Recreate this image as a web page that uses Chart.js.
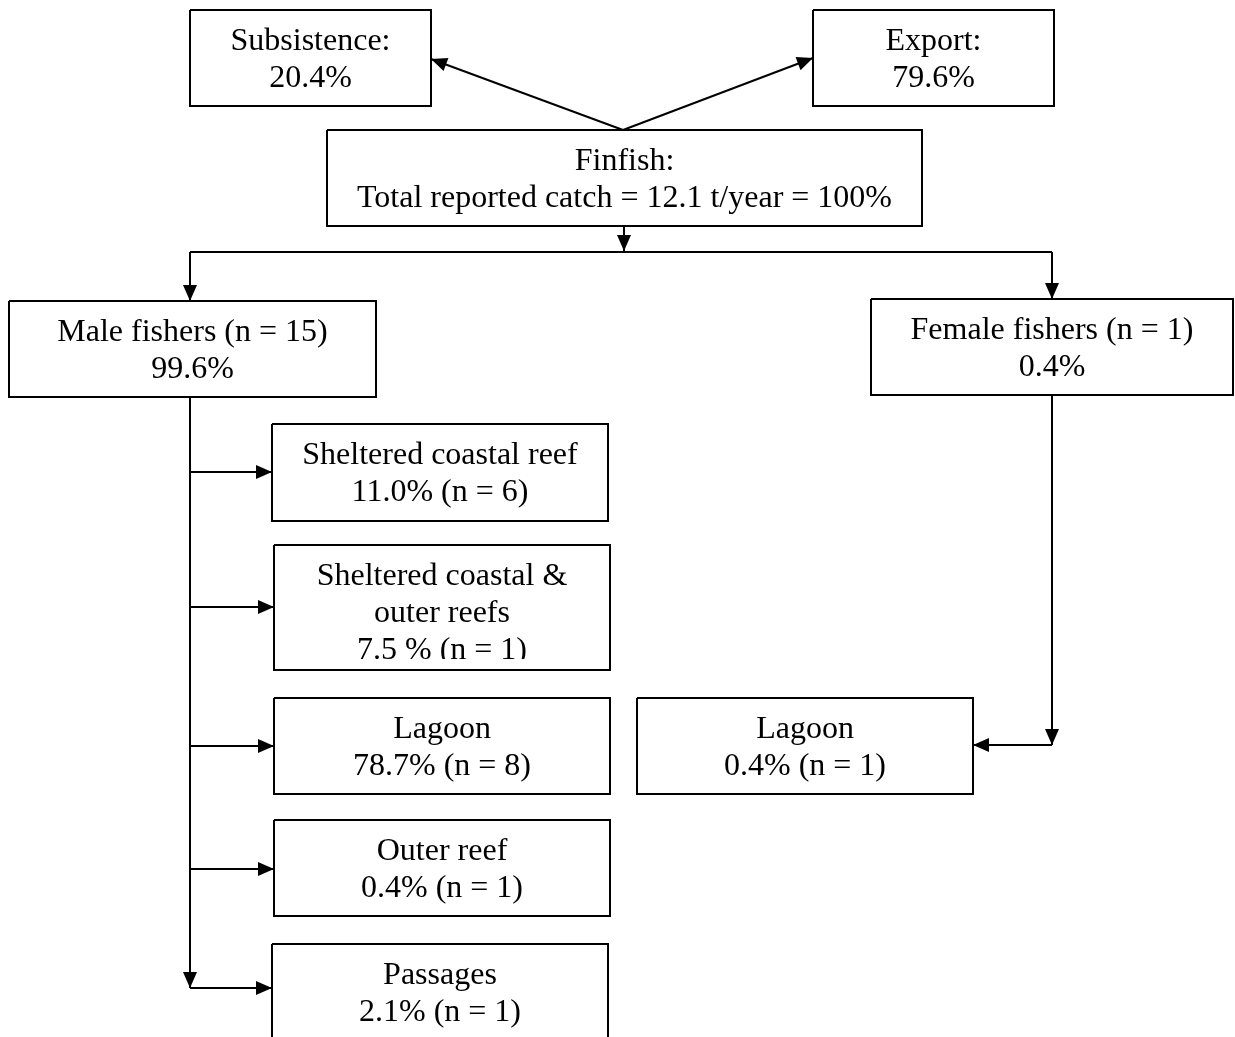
<!DOCTYPE html>
<html>
<head>
<meta charset="utf-8">
<title>Finfish catch flow</title>
<script src="https://cdn.jsdelivr.net/npm/chart.js@4.4.1/dist/chart.umd.min.js"></script>
<style>
    html, body { margin: 0; padding: 0; background: #fff; }
    canvas { display: block; }
</style>
</head>
<body>
<canvas id="flow" width="1235" height="1037"></canvas>
<script>
// Box texts, one entry per box
const boxLabels = [
    ['Subsistence:', '20.4%'],
    ['Export:', '79.6%'],
    ['Finfish:', 'Total reported catch = 12.1 t/year = 100%'],
    ['Male fishers (n = 15)', '99.6%'],
    ['Female fishers (n = 1)', '0.4%'],
    ['Sheltered coastal reef', '11.0% (n = 6)'],
    ['Sheltered coastal &', 'outer reefs', '7.5 % (n = 1)'],
    ['Lagoon', '78.7% (n = 8)'],
    ['Lagoon', '0.4% (n = 1)'],
    ['Outer reef', '0.4% (n = 1)'],
    ['Passages', '2.1% (n = 1)']
];

// Box extents in diagram units (x to the right, y downwards)
const boxLeft   = [190, 813, 327,   9,  871, 272, 274, 274, 637, 274, 272];
const boxRight  = [431, 1054, 922, 376, 1233, 608, 610, 610, 973, 610, 608];
const boxTop    = [10,   10, 130, 301,  299, 424, 545, 698, 698, 820, 944];
const boxBottom = [106, 106, 226, 397,  395, 521, 670, 794, 794, 916, 1050];

// Connector paths, the last point of each gets an arrowhead
const arrowPaths = [
    [[623, 130], [431, 59]],
    [[623, 130], [813, 58]],
    [[624, 226], [624, 251]],
    [[190, 252], [190, 301]],
    [[1052, 252], [1052, 299]],
    [[190, 397], [190, 988]],
    [[190, 472], [272, 472]],
    [[190, 607], [274, 607]],
    [[190, 746], [274, 746]],
    [[190, 869], [274, 869]],
    [[190, 988], [272, 988]],
    [[1052, 395], [1052, 745]],
    [[1052, 745], [973, 745]]
];

// Plain connector without arrowhead
const plainPaths = [
    [[190, 252], [1052, 252]]
];

const toPoints = path => path.map(p => ({ x: p[0], y: p[1] }));

const datasets = [];

boxLabels.forEach((lines, i) => {
    datasets.push({
        label: lines[0],
        data: toPoints([
            [boxLeft[i], boxTop[i]],
            [boxRight[i], boxTop[i]],
            [boxRight[i], boxBottom[i]],
            [boxLeft[i], boxBottom[i]],
            [boxLeft[i], boxTop[i]]
        ]),
        showLine: true,
        borderColor: '#000',
        borderWidth: 2,
        pointRadius: 0,
        tension: 0,
        clip: false
    });
});

plainPaths.forEach(path => {
    datasets.push({
        data: toPoints(path),
        showLine: true,
        borderColor: '#000',
        borderWidth: 2,
        pointRadius: 0,
        clip: false
    });
});

arrowPaths.forEach(path => {
    datasets.push({
        data: toPoints(path),
        showLine: true,
        borderColor: '#000',
        borderWidth: 2,
        pointRadius: 0,
        clip: false,
        arrow: true
    });
});

// Draws arrowheads at the end of arrow datasets
const arrowHeads = {
    id: 'arrowHeads',
    afterDatasetsDraw(chart) {
        const ctx = chart.ctx;
        ctx.save();
        ctx.fillStyle = '#000';
        chart.data.datasets.forEach((ds, i) => {
            if (!ds.arrow) return;
            const pts = chart.getDatasetMeta(i).data;
            const a = pts[pts.length - 2];
            const b = pts[pts.length - 1];
            const ang = Math.atan2(b.y - a.y, b.x - a.x);
            const len = 16, half = 7;
            ctx.beginPath();
            ctx.moveTo(b.x, b.y);
            ctx.lineTo(b.x - len * Math.cos(ang) + half * Math.sin(ang),
                       b.y - len * Math.sin(ang) - half * Math.cos(ang));
            ctx.lineTo(b.x - len * Math.cos(ang) - half * Math.sin(ang),
                       b.y - len * Math.sin(ang) + half * Math.cos(ang));
            ctx.closePath();
            ctx.fill();
        });
        ctx.restore();
    }
};

// Writes the box texts, centred, clipped inside each box
const boxText = {
    id: 'boxText',
    afterDatasetsDraw(chart) {
        const ctx = chart.ctx;
        const xs = chart.scales.x, ys = chart.scales.y;
        ctx.save();
        ctx.font = '32px "Liberation Serif", "Times New Roman", serif';
        ctx.fillStyle = '#000';
        ctx.textAlign = 'center';
        ctx.textBaseline = 'alphabetic';
        boxLabels.forEach((lines, i) => {
            const l = xs.getPixelForValue(boxLeft[i]);
            const r = xs.getPixelForValue(boxRight[i]);
            const t = ys.getPixelForValue(boxTop[i]);
            const btm = ys.getPixelForValue(boxBottom[i]);
            ctx.save();
            ctx.beginPath();
            ctx.rect(l + 2, t + 2, r - l - 4, btm - t - 13);
            ctx.clip();
            lines.forEach((txt, k) => {
                ctx.fillText(txt, (l + r) / 2, t + 40 + k * 37);
            });
            ctx.restore();
        });
        ctx.restore();
    }
};

new Chart(document.getElementById('flow'), {
    type: 'scatter',
    data: { datasets: datasets },
    options: {
        responsive: false,
        animation: false,
        events: [],
        layout: { padding: 0 },
        scales: {
            x: { type: 'linear', min: 0, max: 1235, display: false },
            y: { type: 'linear', min: 0, max: 1037, reverse: true, display: false }
        },
        plugins: {
            legend: { display: false },
            tooltip: { enabled: false },
            title: { display: false }
        }
    },
    plugins: [arrowHeads, boxText]
});
</script>
</body>
</html>
